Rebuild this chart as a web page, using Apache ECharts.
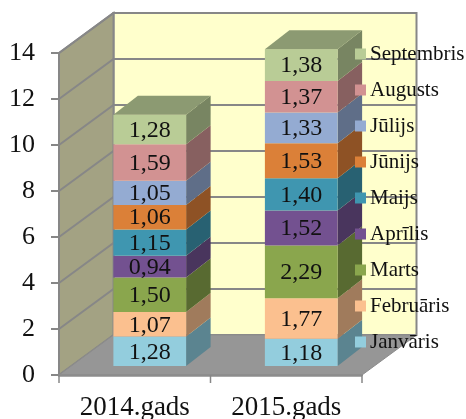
<!DOCTYPE html>
<html><head><meta charset="utf-8">
<style>html,body{margin:0;padding:0;background:#fff;overflow:hidden}#c{width:466px;height:419px}</style>
<script src="https://cdn.jsdelivr.net/npm/echarts@6/dist/echarts.min.js"></script>
</head><body><div id="c"></div>
<script>
const categories = ['2014.gads', '2015.gads'];
const months = ['Janvāris','Februāris','Marts','Aprīlis','Maijs','Jūnijs','Jūlijs','Augusts','Septembris'];
const values2014 = [1.28,1.07,1.50,0.94,1.15,1.06,1.05,1.59,1.28];
const values2015 = [1.18,1.77,2.29,1.52,1.40,1.53,1.33,1.37,1.38];
const frontColors = ['#93CDDD','#FBC08F','#8AA64D','#735190','#3F96B0','#DB8038','#94ABD2','#D29292','#B9CC96'];
const sideColors  = ['#5B8490','#A07B5C','#586A31','#49355D','#286172','#8E5225','#5F6E88','#876060','#788562'];
const topColor = '#8C9A72';
const yTicks = [0,2,4,6,8,10,12,14];
const font = '"Liberation Serif","Times New Roman",serif';
const gray = '#878787';
const wallDX = 54.5, wallDY = -40;
const barDX = 24.5, barDY = -19, barOffX = 15, barOffY = -9;
const xTickLen = 8;
const chart = echarts.init(document.getElementById('c'), null, {renderer:'canvas',width:466,height:419});
const series = [];
// walls, floor, category boundary ticks
series.push({
  type:'custom', silent:true, z:1, data:[[0,0]],
  encode:{x:0,y:1},
  renderItem(params, api){
    const g = params.coordSys;
    const L=g.x, R=g.x+g.width, T=g.y, B=g.y+g.height;
    const dx=wallDX, dy=wallDY;
    const tick = x => ({type:'line', shape:{x1:x,y1:B,x2:x,y2:B+xTickLen}, style:{stroke:gray, lineWidth:1.5}});
    return {type:'group', children:[
      {type:'polygon', shape:{points:[[L+dx,T+dy],[R+dx,T+dy],[R+dx,B+dy],[L+dx,B+dy]]},
        style:{fill:'#FFFFCC', stroke:gray, lineWidth:2}},
      {type:'polygon', shape:{points:[[L,T],[L+dx,T+dy],[L+dx,B+dy],[L,B]]},
        style:{fill:'#A3A283', stroke:gray, lineWidth:2}},
      {type:'polygon', shape:{points:[[L,B],[L+dx,B+dy],[R+dx,B+dy],[R,B]]},
        style:{fill:'#969696', stroke:'#8c8c8c', lineWidth:1}},
      {type:'line', shape:{x1:L,y1:B+0.5,x2:R,y2:B+0.5}, style:{stroke:'#8c8c8c', lineWidth:2.5}},
      tick(L), tick((L+R)/2), tick(R)
    ]};
  }
});
// wall gridlines
series.push({
  type:'custom', silent:true, z:1, data:yTicks.slice(1).map(t=>[0,t]),
  encode:{x:0,y:1},
  renderItem(params, api){
    const g = params.coordSys;
    const y = api.coord([0, api.value(1)])[1];
    return {type:'polyline', shape:{points:[[g.x,y],[g.x+wallDX,y+wallDY],[g.x+g.width+wallDX,y+wallDY]]},
      style:{fill:null, stroke:gray, lineWidth:2}};
  }
});
// stacked 3D segments
months.forEach((m,i)=>{
  const base = v => v.slice(0,i).reduce((a,b)=>a+b,0);
  series.push({
    name:m, type:'custom', silent:true, z:2,
    itemStyle:{color:frontColors[i]},
    encode:{x:0,y:1},
    data:[[0,values2014[i],base(values2014)],[1,values2015[i],base(values2015)]],
    renderItem(params, api){
      const val = api.value(1), b = api.value(2), cat = api.value(0);
      const p0 = api.coord([cat,b]), p1 = api.coord([cat,b+val]);
      const w = api.size([1,0])[0]*0.48;
      const x0 = p0[0]-w/2+barOffX, x1 = x0+w;
      const yb = p0[1]+barOffY, yt = p1[1]+barOffY;
      const ch = [
        {type:'polygon', shape:{points:[[x1,yb],[x1+barDX,yb+barDY],[x1+barDX,yt+barDY],[x1,yt]]},
          style:{fill:sideColors[i]}},
        {type:'rect', shape:{x:x0,y:yt,width:w,height:yb-yt}, style:{fill:frontColors[i]}}
      ];
      if(i===months.length-1) ch.push({type:'polygon',
        shape:{points:[[x0,yt],[x0+barDX,yt+barDY],[x1+barDX,yt+barDY],[x1,yt]]}, style:{fill:topColor}});
      ch.push({type:'text', z2:5, style:{text:val.toFixed(2).replace('.',','), x:(x0+x1)/2, y:(yb+yt)/2+1,
        align:'center', verticalAlign:'middle', fill:'#111', font:'24px '+font}});
      return {type:'group', children:ch};
    }
  });
});
chart.setOption({
  animation:false,
  backgroundColor:'#fff',
  grid:{left:59,right:104,top:53,bottom:44,outerBoundsMode:'none'},
  legend:{
    orient:'vertical', left:355, top:43, itemWidth:11, itemHeight:11, itemGap:14, icon:'rect',
    data:months.slice().reverse(), selectedMode:false, padding:0,
    textStyle:{fontFamily:font, fontSize:21, color:'#111', lineHeight:22, padding:[0,0,0,-1]}
  },
  xAxis:{type:'category', data:categories, boundaryGap:true,
    axisLine:{lineStyle:{color:gray,width:2}},
    axisTick:{show:false},
    axisLabel:{fontFamily:font,fontSize:27,color:'#111',margin:19},
    splitLine:{show:false}},
  yAxis:{type:'value',min:0,max:14,interval:2,
    axisLine:{show:true,lineStyle:{color:gray,width:2}},
    axisTick:{show:true,length:8,lineStyle:{color:gray,width:2}},
    axisLabel:{fontFamily:font,fontSize:26,color:'#111',margin:24,padding:[7,0,0,0]},
    splitLine:{show:false}},
  series
});
</script></body></html>
